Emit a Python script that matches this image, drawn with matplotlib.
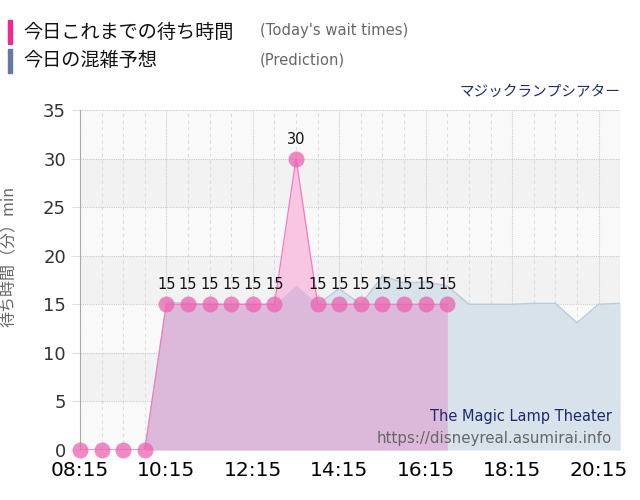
import matplotlib
matplotlib.use('Agg')
import matplotlib.pyplot as plt
import numpy as np

# Today's wait times (actual)
actual_times = ['08:15', '08:45', '09:15', '09:45', '10:15', '10:45', '11:15',
                '11:45', '12:15', '12:45', '13:15', '13:45', '14:15', '14:45',
                '15:15', '15:45', '16:15', '16:45']
actual_waits = [0, 0, 0, 0, 15, 15, 15, 15, 15, 15, 30, 15, 15, 15, 15, 15, 15, 15]

# Prediction
pred_times = ['08:15', '08:45', '09:15', '09:45', '10:15', '10:45', '11:15',
              '11:45', '12:15', '12:45', '13:15', '13:45', '14:15', '14:45',
              '15:15', '15:45', '16:15', '16:45', '17:15', '17:45', '18:15',
              '18:45', '19:15', '19:45', '20:15', '20:45']
pred_waits = [0, 0, 0, 0, 15.2, 15.1, 15, 15, 15, 15, 17, 15, 16.6, 15,
              17.9, 17.2, 17.3, 16.9, 15, 15, 15, 15.1, 15.1, 13.1, 15, 15.1]

tick_labels = ['08:15', '10:15', '12:15', '14:15', '16:15', '18:15', '20:15']

JP = ['Noto Sans CJK JP', 'DejaVu Sans']


def hours(t):
    h, m = t.split(':')
    return int(h) + int(m) / 60


def main():
    xa = [hours(t) for t in actual_times]
    xp = [hours(t) for t in pred_times]
    xt = [hours(t) for t in tick_labels]

    fig = plt.figure(figsize=(6.4, 5.0), dpi=100)
    ax = fig.add_axes([0.125, 0.1, 0.844, 0.68])

    x0, x1 = hours('08:15'), hours('20:45')
    ax.set_xlim(x0, x1)
    ax.set_ylim(0, 35)

    # alternating background bands
    for i, lo in enumerate(range(0, 35, 5)):
        ax.axhspan(lo, lo + 5, color='#f9f9f9' if i % 2 == 0 else '#f2f2f2',
                   zorder=0, lw=0)

    # grid
    t = x0
    while t <= x1 + 1e-6:
        major = any(abs(t - v) < 1e-6 for v in xt)
        if major:
            ax.axvline(t, color='#cccccc', lw=0.8, ls=(0, (1, 1)), zorder=1)
        else:
            ax.axvline(t, color='#dddddd', lw=0.8, ls=(0, (3, 3)), zorder=1)
        t += 0.5
    ax.axvline(x1, color='#cccccc', lw=0.8, ls=(0, (1, 1)), zorder=1)
    for v in range(5, 36, 5):
        ax.axhline(v, color='#cccccc', lw=0.8, ls=(0, (1, 1)), zorder=1)

    # prediction
    ax.fill_between(xp, pred_waits, 0, color='#d7e2ea', lw=0, zorder=2)
    ax.plot(xp, pred_waits, color='#bccbd8', lw=1, zorder=2)

    # actual: overlap with prediction in purple, excess in light pink
    act = np.array(actual_waits, dtype=float)
    overlap = np.minimum(act, np.array(pred_waits[:len(act)]))
    ax.fill_between(xa, overlap, 0, color='#dcb9da', lw=0, zorder=3)
    ax.fill_between(xa, act, overlap, color='#f8c6e3', lw=0, zorder=3)
    ax.plot(xa, act, color='#f27cbd', lw=0.9, zorder=4)
    ax.plot(xa, act, 'o', ms=11.5, color='#ec63ae', alpha=0.75,
            mec='none', zorder=5, clip_on=False)
    for x, y in zip(xa, actual_waits):
        if y > 0:
            ax.annotate(str(y), (x, y), xytext=(0, 8.5), textcoords='offset points',
                        ha='center', va='bottom', fontsize=10.5, color='#111111',
                        zorder=6)

    ax.set_xticks(xt, tick_labels)
    ax.set_yticks(range(0, 36, 5))
    ax.tick_params(axis='x', labelsize=14.5, colors='#000000', length=0, pad=8)
    ax.tick_params(axis='y', labelsize=13, labelcolor='#333333', length=6,
                   color='#dddddd', pad=4)
    for s in ['top', 'right', 'bottom']:
        ax.spines[s].set_visible(False)
    ax.spines['left'].set_color('#aaaaaa')
    ax.set_ylabel('待ち時間（分）min', family=JP, fontsize=11.5, color='#666666')
    ax.yaxis.set_label_coords(-0.115, 0.568)

    # inside labels
    ax.text(0.985, 0.1, 'The Magic Lamp Theater', transform=ax.transAxes,
            ha='right', va='center', fontsize=10.5, color='#1f2a6e', zorder=7)
    ax.text(0.985, 0.035, 'https://disneyreal.asumirai.info',
            transform=ax.transAxes, ha='right', va='center', fontsize=10.8,
            color='#666666', zorder=7)

    # legend-like header
    fig.patches.append(plt.Rectangle((8 / 640, 1 - 44 / 500), 4 / 640, 24 / 500,
                                     transform=fig.transFigure,
                                     color='#f0288f'))
    fig.patches.append(plt.Rectangle((8 / 640, 1 - 73 / 500), 4 / 640, 24 / 500,
                                     transform=fig.transFigure,
                                     color='#6678a6'))
    fig.text(23 / 640, 1 - 32 / 500, '今日これまでの待ち時間', family=JP,
             fontsize=13.8, color='#111111', va='center')
    fig.text(23 / 640, 1 - 61 / 500, '今日の混雑予想', family=JP,
             fontsize=13.8, color='#111111', va='center')
    fig.text(260 / 640, 1 - 31 / 500, "(Today's wait times)", fontsize=10.6,
             color='#666666', va='center')
    fig.text(260 / 640, 1 - 60 / 500, '(Prediction)', fontsize=10.6,
             color='#666666', va='center')
    fig.text(620 / 640, 1 - 92 / 500, 'マジックランプシアター', family=JP,
             fontsize=10.5, color='#1f2a6e', va='center', ha='right')

    fig.savefig('out.png', dpi=100)


if __name__ == '__main__':
    main()
